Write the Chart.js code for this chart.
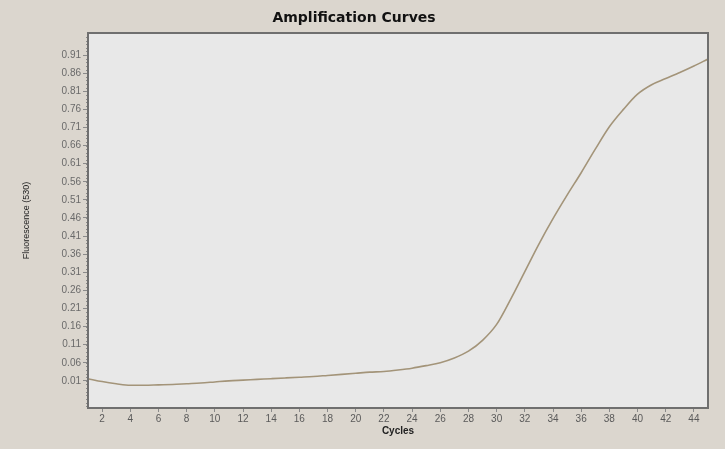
<!DOCTYPE html>
<html>
<head>
<meta charset="utf-8">
<script src="https://cdn.jsdelivr.net/npm/chart.js@4.4.0/dist/chart.umd.min.js"></script>
<style>
  html, body { margin: 0; padding: 0; background: #dbd6ce; }
  #wrap { width: 725px; height: 449px; }
</style>
</head>
<body>
<div id="wrap"><canvas id="amp"></canvas></div>
<script>
// ===== DATA =====
const cycles = [1, 2, 3, 4, 5, 6, 7, 8, 9, 10, 11, 12, 13, 14, 15, 16, 17, 18, 19, 20, 21, 22, 23,
    24, 25, 26, 27, 28, 29, 30, 31, 32, 33, 34, 35, 36, 37, 38, 39, 40, 41, 42, 43, 44, 45];
const fluorescence = [0.016, 0.008, 0.002, -0.002, -0.002, -0.001, 0.000, 0.002, 0.004, 0.007,
    0.010, 0.012, 0.014, 0.016, 0.018, 0.020, 0.022, 0.025, 0.028, 0.031, 0.034, 0.036, 0.040,
    0.045, 0.052, 0.060, 0.073, 0.092, 0.122, 0.166, 0.236, 0.312, 0.388, 0.458, 0.523, 0.585,
    0.650, 0.712, 0.760, 0.802, 0.828, 0.845, 0.862, 0.880, 0.899];
const yTicks = [0.01, 0.06, 0.11, 0.16, 0.21, 0.26, 0.31, 0.36, 0.41, 0.46, 0.51, 0.56, 0.61,
    0.66, 0.71, 0.76, 0.81, 0.86, 0.91];
const xTicks = [2, 4, 6, 8, 10, 12, 14, 16, 18, 20, 22, 24, 26, 28, 30, 32, 34, 36, 38, 40, 42, 44];

// plot frame: grey panel + dark border, and the small ruler ticks on the y axis
const framePlugin = {
    id: 'frame',
    beforeDraw(chart) {
        const { ctx, chartArea: a } = chart;
        ctx.save();
        ctx.fillStyle = '#e8e8e8';
        ctx.fillRect(a.left, a.top, a.right - a.left, a.bottom - a.top);
        ctx.restore();
    },
    afterDraw(chart) {
        const { ctx, chartArea: a } = chart;
        const y = chart.scales.y;
        ctx.save();
        ctx.strokeStyle = '#8a8a8a';
        ctx.lineWidth = 1;
        ctx.beginPath();
        for (let i = -6; i <= 96; i++) {
            const py = Math.round(y.getPixelForValue(i / 100)) + 0.5;
            if (py < a.top || py > a.bottom) continue;
            ctx.moveTo(a.left - 2, py);
            ctx.lineTo(a.left, py);
        }
        ctx.stroke();
        ctx.strokeStyle = '#6f6f6f';
        ctx.lineWidth = 2;
        ctx.strokeRect(a.left, a.top, a.right - a.left, a.bottom - a.top);
        ctx.restore();
    }
};

const ctx = document.getElementById('amp').getContext('2d');
new Chart(ctx, {
    type: 'line',
    data: {
        datasets: [{
            label: 'Sample',
            data: cycles.map((c, i) => ({ x: c, y: fluorescence[i] })),
            borderColor: '#a39479',
            borderWidth: 1.6,
            pointRadius: 0,
            cubicInterpolationMode: 'monotone',
            fill: false
        }]
    },
    options: {
        responsive: true,
        maintainAspectRatio: false,
        animation: false,
        layout: { padding: { left: 0, right: 17, top: 0, bottom: 0 } },
        plugins: {
            legend: { display: false },
            tooltip: { enabled: false },
            title: {
                display: true,
                text: 'Amplification Curves',
                color: '#111',
                font: { family: 'DejaVu Sans', size: 14, weight: 'bold' },
                padding: { top: 10, bottom: 6.2 }
            }
        },
        scales: {
            x: {
                type: 'linear',
                min: 1,
                max: 45,
                afterFit: s => { s.height = 41; },
                afterBuildTicks: s => { s.ticks = xTicks.map(v => ({ value: v })); },
                grid: { drawOnChartArea: false, tickLength: 4, color: '#8a8a8a' },
                border: { display: false },
                ticks: {
                    color: '#5a5a5a',
                    padding: 1,
                    maxRotation: 0,
                    autoSkip: false,
                    font: { family: 'Liberation Sans', size: 10 }
                },
                title: {
                    display: true,
                    text: 'Cycles',
                    color: '#222',
                    font: { family: 'Liberation Sans', size: 10, weight: 'bold' },
                    padding: { top: 0, bottom: 12 }
                }
            },
            y: {
                min: -0.065,
                max: 0.971,
                afterFit: s => { s.width = 88; },
                afterBuildTicks: s => { s.ticks = yTicks.map(v => ({ value: v })); },
                grid: { drawOnChartArea: false, tickLength: 5, color: '#8a8a8a' },
                border: { display: false },
                ticks: {
                    color: '#6a6a6a',
                    padding: 2,
                    autoSkip: false,
                    font: { family: 'Liberation Sans', size: 10 },
                    callback: v => v.toFixed(2)
                },
                title: {
                    display: true,
                    text: 'Fluorescence (530)',
                    color: '#222',
                    font: { family: 'Liberation Sans', size: 9 },
                    padding: { top: 21, bottom: 0 }
                }
            }
        }
    },
    plugins: [framePlugin]
});
</script>
</body>
</html>
